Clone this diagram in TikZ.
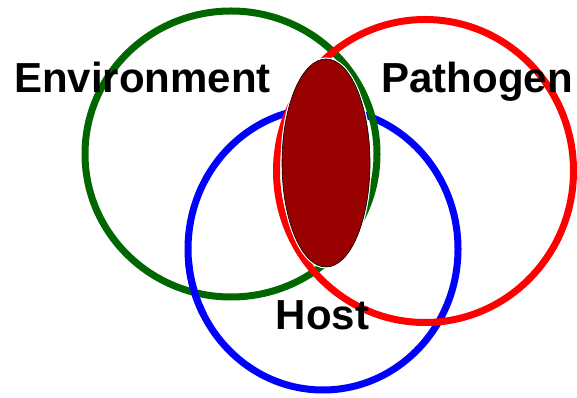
\documentclass[tikz,border=0pt]{standalone}
\usepackage{fontspec}
\setmainfont{Liberation Sans}
\definecolor{envgreen}{HTML}{006600}
\definecolor{pathred}{HTML}{FF0000}
\definecolor{hostblue}{HTML}{0000FF}
\definecolor{core}{HTML}{990000}
\begin{document}
\begin{tikzpicture}[x=1pt,y=1pt,
  ring/.style={line width=7pt},
  label/.style={anchor=base,inner sep=0pt,font=\fontsize{42}{50}\selectfont\bfseries}]
\useasboundingbox (0,0) rectangle (577,398);
% the three interlocking rings
\draw[ring,hostblue] (323,149) ellipse [x radius=135,y radius=141];
\draw[ring,envgreen] (231,244) ellipse [x radius=146,y radius=143];
\draw[ring,pathred] (425,227) ellipse [x radius=148.5,y radius=151.5];
% host ring passes over the environment ring at lower left
\draw[ring,hostblue] (323,149) ++(185:135 and 141)
  arc [start angle=185,end angle=208,x radius=135,y radius=141];
% common intersection
\draw[white,line width=3pt] (326,235) ellipse [x radius=44,y radius=104];
\draw[black,line width=0.6pt,fill=core] (326,235) ellipse [x radius=44,y radius=104];
% labels
\node[label] (env) at (142.5,305) {Environment};
\node[label] (pat) at (477,305) {Pathogen};
\node[label] (hst) at (322.5,68) {Host};
\end{tikzpicture}
\end{document}
